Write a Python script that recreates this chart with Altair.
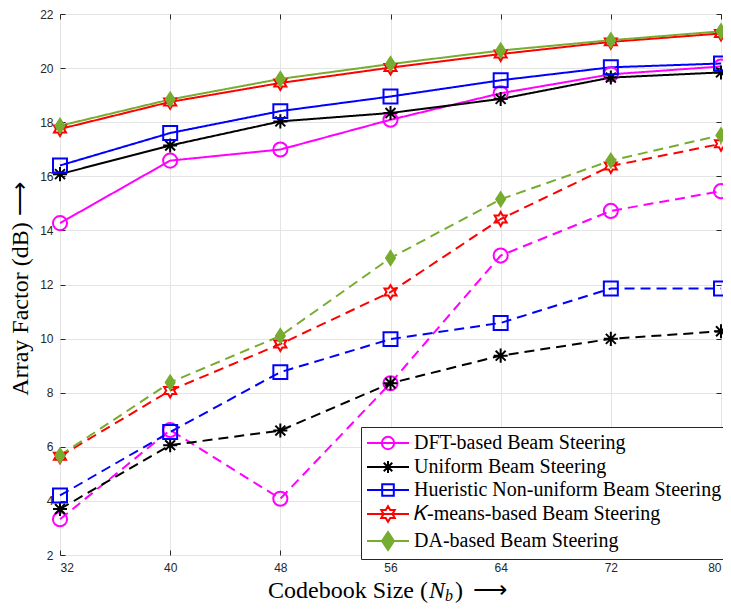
import altair as alt
import pandas as pd
import math

# ---------------- data ----------------
codebook_sizes = [32, 40, 48, 56, 64, 72, 80]

series_names = [
    "DFT-based Beam Steering",
    "Uniform Beam Steering",
    "Hueristic Non-uniform Beam Steering",
    "\U0001D43E-means-based Beam Steering",
    "DA-based Beam Steering",
]

dft_solid = [14.27, 16.58, 16.99, 18.09, 19.07, 19.77, 20.06]
uniform_solid = [16.08, 17.14, 18.03, 18.34, 18.86, 19.65, 19.84]
hueristic_solid = [16.40, 17.60, 18.41, 18.95, 19.55, 20.03, 20.17]
kmeans_solid = [17.75, 18.75, 19.45, 20.02, 20.52, 20.97, 21.28]
da_solid = [17.87, 18.84, 19.60, 20.15, 20.65, 21.03, 21.36]

dft_dashed = [3.32, 6.62, 4.08, 8.35, 13.07, 14.72, 15.45]
uniform_dashed = [3.70, 6.06, 6.60, 8.35, 9.37, 9.99, 10.27]
hueristic_dashed = [4.20, 6.55, 8.76, 9.98, 10.58, 11.85, 11.85]
kmeans_dashed = [5.65, 8.08, 9.80, 11.72, 14.42, 16.38, 17.20]
da_dashed = [5.68, 8.38, 10.10, 12.98, 15.15, 16.58, 17.52]

x_ticks = [32, 40, 48, 56, 64, 72, 80]
y_ticks = [2, 4, 6, 8, 10, 12, 14, 16, 18, 20, 22]

solid_sets = [dft_solid, uniform_solid, hueristic_solid, kmeans_solid, da_solid]
dashed_sets = [dft_dashed, uniform_dashed, hueristic_dashed, kmeans_dashed, da_dashed]

rows = []
for name, s_vals, d_vals in zip(series_names, solid_sets, dashed_sets):
    for n, v in zip(codebook_sizes, s_vals):
        rows.append({"N": n, "AF": v, "series": name, "case": "solid"})
    for n, v in zip(codebook_sizes, d_vals):
        rows.append({"N": n, "AF": v, "series": name, "case": "dashed"})
df = pd.DataFrame(rows)

# ---------------- styles ----------------
colors = ["#FF00FF", "#000000", "#0000FF", "#FF0000", "#77AC30"]
fills = ["transparent", "transparent", "transparent", "transparent", "#77AC30"]


def hexagram(cx, r):
    pts = []
    for k in range(12):
        ang = math.radians(-90 + 30 * k)
        rr = r if k % 2 == 0 else r / math.sqrt(3)
        pts.append((cx + rr * math.cos(ang), rr * math.sin(ang)))
    return "M" + "L".join(f"{x:.3f},{y:.3f}" for x, y in pts) + "Z"


def asterisk(cx, r):
    d = r * 0.7071
    return (f"M{cx},{-r}V{r}M{cx - r},0H{cx + r}"
            f"M{cx - d},{-d}L{cx + d},{d}M{cx - d},{d}L{cx + d},{-d}")


marker_paths = [
    "circle",
    asterisk(0, 1),
    "square",
    hexagram(0, 1),
    "M0,-1L0.65,0L0,1L-0.65,0Z",
]
marker_sizes = [200, 190, 170, 270, 400]

c = 1.1
line = "M-1,0H3.2"
legend_paths = [
    line + f"M{c + 0.62},0A0.62,0.62,0,1,1,{c - 0.62},0A0.62,0.62,0,1,1,{c + 0.62},0",
    line + asterisk(c, 0.6),
    line + f"M{c - 0.58},-0.58H{c + 0.58}V0.58H{c - 0.58}Z",
    line + hexagram(c, 0.78),
    line + f"M{c},-0.9L{c + 0.6},0L{c},0.9L{c - 0.6},0Z",
]

W, H = 661, 541
x_scale = alt.Scale(domain=[32, 80], nice=False, zero=False)
y_scale = alt.Scale(domain=[2, 22], nice=False, zero=False)

serif = "Liberation Serif"

x_main = alt.X("N:Q", scale=x_scale,
               axis=alt.Axis(values=x_ticks, title=None, grid=True, ticks=False,
                             domain=False, labelPadding=7, format="d"))
y_main = alt.Y("AF:Q", scale=y_scale,
               axis=alt.Axis(values=y_ticks, title=None, grid=True, ticks=False,
                             domain=False, labelPadding=7, format="d"))
x_none = alt.X("N:Q", scale=x_scale, axis=None)
y_none = alt.Y("AF:Q", scale=y_scale, axis=None)

lines = alt.Chart(df).mark_line(strokeWidth=2).encode(
    x=x_main,
    y=y_main,
    color=alt.Color("series:N", scale=alt.Scale(domain=series_names, range=colors), legend=None),
    strokeDash=alt.StrokeDash("case:N", scale=alt.Scale(domain=["solid", "dashed"], range=[[1, 0], [10, 6]]), legend=None),
)

points = alt.Chart(df).mark_point(strokeWidth=2, opacity=1).encode(
    x=x_none,
    y=y_none,
    shape=alt.Shape("series:N", scale=alt.Scale(domain=series_names, range=marker_paths), legend=None),
    stroke=alt.Stroke("series:N", scale=alt.Scale(domain=series_names, range=colors), legend=None),
    fill=alt.Fill("series:N", scale=alt.Scale(domain=series_names, range=fills), legend=None),
    size=alt.Size("series:N", scale=alt.Scale(domain=series_names, range=marker_sizes), legend=None),
)

leg = alt.Legend(
    title=None, orient="none", legendX=301, legendY=413,
    symbolSize=400, symbolStrokeWidth=2, labelFont=serif, labelFontSize=20,
    labelColor="#000000", labelOffset=26, rowPadding=2, padding=5,
    fillColor="white", strokeColor="#262626", labelLimit=400,
)

legend_layer = alt.Chart(df).transform_filter("false").mark_point(strokeWidth=2, opacity=1).encode(
    x=x_none,
    y=y_none,
    shape=alt.Shape("series:N", scale=alt.Scale(domain=series_names, range=legend_paths), legend=leg),
    stroke=alt.Stroke("series:N", scale=alt.Scale(domain=series_names, range=colors), legend=leg),
    fill=alt.Fill("series:N", scale=alt.Scale(domain=series_names, range=fills), legend=leg),
)

tick_ax = dict(labels=False, grid=False, domain=False, ticks=True, tickSize=5, offset=-5,
               title=None, tickColor="#262626")
frame1 = alt.Chart(df).transform_filter("false").mark_point().encode(
    x=alt.X("N:Q", scale=x_scale, axis=alt.Axis(values=x_ticks, orient="bottom", **tick_ax)),
    y=alt.Y("AF:Q", scale=y_scale, axis=alt.Axis(values=y_ticks, orient="left", **tick_ax)),
)
frame2 = alt.Chart(df).transform_filter("false").mark_point().encode(
    x=alt.X("N:Q", scale=x_scale, axis=alt.Axis(values=x_ticks, orient="top", **tick_ax)),
    y=alt.Y("AF:Q", scale=y_scale, axis=alt.Axis(values=y_ticks, orient="right", **tick_ax)),
)

one = alt.Data(values=[{"k": 1}])
ty = 584


def label(text, x, y, size=24, style="normal", align="left", angle=0):
    return alt.Chart(one).mark_text(
        text=text, font=serif, fontSize=size, fontStyle=style, align=align, angle=angle,
        baseline="alphabetic", color="#000000",
    ).encode(x=alt.value(x), y=alt.value(y))


title_parts = [
    label("Codebook Size (", 368, ty, align="right"),
    label("N", 369, ty, style="italic"),
    label("b", 385, ty + 3, size=16, style="italic"),
    label(")", 395, ty),
    label("\u27F6", 413, ty),
    label("Array Factor (dB)  \u27F6", -32, 275, size=24, align="center", angle=270),
]

chart = alt.layer(lines, points, legend_layer, frame1, frame2, *title_parts).resolve_scale(
    color="independent", shape="independent", fill="independent", stroke="independent",
    size="independent", strokeDash="independent",
).resolve_axis(x="independent", y="independent").properties(
    width=W, height=H,
    autosize=alt.AutoSizeParams(type="none"),
    padding={"left": 52, "top": 6, "right": 2, "bottom": 49},
).configure_axis(
    labelFont="Liberation Sans", labelFontSize=12, labelColor="#262626",
    gridColor="#e4e4e4", gridWidth=1,
).configure_view(stroke="#262626", strokeWidth=1)

chart.save("out.html", embed_options={"renderer": "svg", "actions": False})
